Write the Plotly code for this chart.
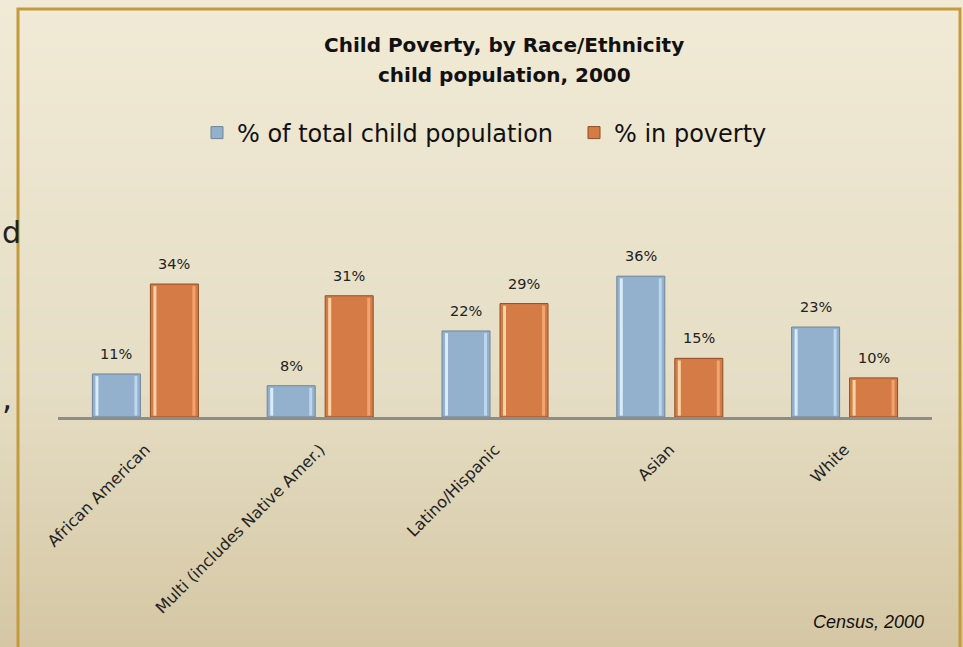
import plotly.graph_objects as go

# ---- data -------------------------------------------------------------
categories = ["African American", "Multi (includes Native Amer.)",
              "Latino/Hispanic", "Asian", "White"]
pct_population = [11, 8, 22, 36, 23]
pct_poverty = [34, 31, 29, 15, 10]
series_names = ["% of total child population", "% in poverty"]

# ---- geometry helpers ---------------------------------------------------
W, H = 963, 647
PL, PR = 58, 932          # plot area left/right in pixels
PB = 417                   # plot area bottom (axis line)
PT = 241                   # plot area top
YMAX = 45
CAT_PX = (PR - PL) / len(categories)


def px(x):
    return (x - PL) / (PR - PL)


def py(y):
    return (PB - y) / (PB - PT)


def cu(p):
    """pixels -> category units"""
    return p / CAT_PX


def mix(c1, c2, t):
    return "#%02x%02x%02x" % tuple(round(a + (b - a) * t) for a, b in zip(c1, c2))


fig = go.Figure()

# bar styles: fill, outline, left highlight, right highlight
styles = [
    dict(fill="#93B1CD", edge="#6F8598", hi="#D9ECFA", hi2="#BCD6EE", off=-53),
    dict(fill="#D57C46", edge="#8E4E26", hi="#FFD3A6", hi2="#F2A470", off=5),
]
BAR_W = 48

for name, vals, st in zip(series_names, [pct_population, pct_poverty], styles):
    fig.add_trace(go.Bar(
        x=categories, y=vals, name=name,
        offset=cu(st["off"]), width=cu(BAR_W),
        marker=dict(color=st["fill"], line=dict(color=st["edge"], width=1)),
        hoverinfo="x+y",
    ))
    # bevel highlights along the inner side edges
    fig.add_trace(go.Bar(
        x=categories, y=[v - 0.9 for v in vals], base=0.35,
        offset=cu(st["off"] + 3), width=cu(3),
        marker=dict(color=st["hi"], line=dict(width=0)),
        showlegend=False, hoverinfo="skip",
    ))
    fig.add_trace(go.Bar(
        x=categories, y=[v - 0.9 for v in vals], base=0.35,
        offset=cu(st["off"] + BAR_W - 6), width=cu(3),
        marker=dict(color=st["hi2"], line=dict(width=0)),
        showlegend=False, hoverinfo="skip",
    ))

# value labels above each bar
annotations = []
for vals, st in zip([pct_population, pct_poverty], styles):
    for c, v in zip(categories, vals):
        annotations.append(dict(
            x=c, y=v, xref="x", yref="y", text=f"{v}%", showarrow=False,
            xshift=st["off"] + BAR_W / 2, yshift=20,
            font=dict(family="DejaVu Sans", size=14.5, color="#222222"),
        ))


def note(x, y, text, size, family="DejaVu Sans", xanchor="center", color="#111111"):
    return dict(x=px(x), y=py(y), xref="paper", yref="paper", showarrow=False,
                xanchor=xanchor, yanchor="middle", text=text,
                font=dict(family=family, size=size, color=color))


# title, source note and slide text fragments at the left edge
annotations += [
    note(504, 45, "<b>Child Poverty, by Race/Ethnicity</b>", 20),
    note(504, 75, "<b>child population, 2000</b>", 20),
    note(926, 622, "<i>Census, 2000</i>", 18, family="Liberation Sans", xanchor="right"),
    note(0, 232, "d", 30, xanchor="left", color="#222222"),
    note(0, 398, ",", 32, xanchor="left", color="#222222"),
]

# page background gradient + frame
shapes = []
top_c, mid_c, bot_c = (241, 234, 214), (229, 221, 196), (213, 199, 164)
N = 80
for i in range(N):
    y0 = H * i / N
    y1 = H * (i + 1) / N
    t = (i + 0.5) / N
    col = mix(top_c, mid_c, t / 0.6) if t < 0.6 else mix(mid_c, bot_c, (t - 0.6) / 0.4)
    shapes.append(dict(type="rect", xref="paper", yref="paper", layer="below",
                       x0=px(0), x1=px(W), y0=py(y1 + 0.5), y1=py(y0),
                       fillcolor=col, line=dict(width=0)))
shapes.append(dict(type="rect", xref="paper", yref="paper", layer="below",
                   x0=px(18), x1=px(960), y0=py(670), y1=py(9),
                   fillcolor="rgba(0,0,0,0)", line=dict(color="#C49A3C", width=3)))

fig.update_layout(
    width=W, height=H,
    margin=dict(l=PL, r=W - PR, t=PT, b=H - PB, pad=0, autoexpand=False),
    paper_bgcolor="#EFE8D3", plot_bgcolor="rgba(0,0,0,0)",
    barmode="overlay",
    showlegend=True,
    legend=dict(orientation="h", x=px(951), xanchor="right", y=py(133), yanchor="middle",
                font=dict(family="DejaVu Sans", size=24, color="#111111"),
                bgcolor="rgba(0,0,0,0)", itemwidth=30, traceorder="normal",
                entrywidth=332, entrywidthmode="pixels"),
    xaxis=dict(showgrid=False, zeroline=False, showline=True, linecolor="#8C8C8C",
               linewidth=3, ticks="", tickangle=-45, ticklabelstandoff=14,
               tickfont=dict(family="DejaVu Sans", size=16, color="#222222")),
    yaxis=dict(range=[0, YMAX], visible=False, showgrid=False, zeroline=False),
    annotations=annotations,
    shapes=shapes,
)

fig.write_html("out.html")
